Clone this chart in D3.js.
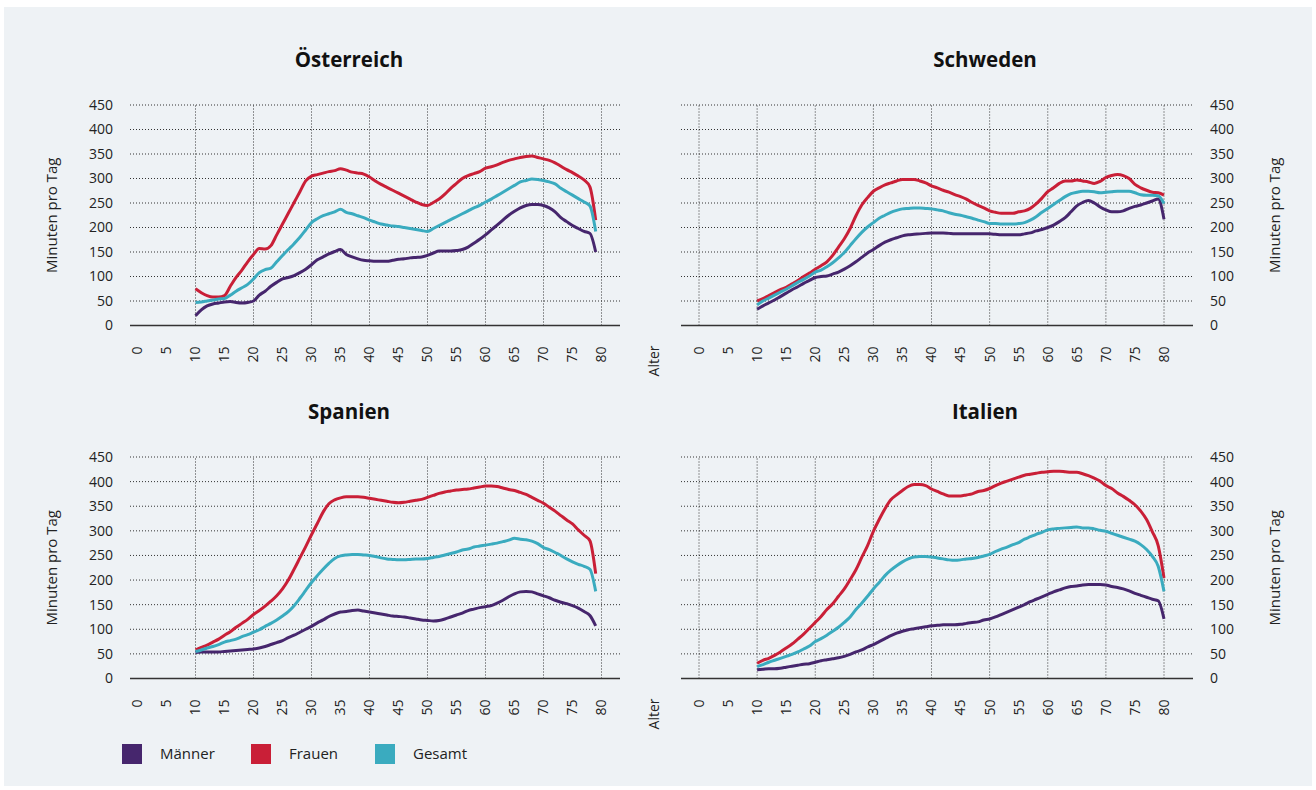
<!DOCTYPE html>
<html>
<head>
<meta charset="utf-8">
<script src="https://cdn.jsdelivr.net/npm/d3@7"></script>
<style>
  body { margin: 0; background: #fff; }
  svg { display: block; font-family: "Open Sans", "Noto Sans", sans-serif; }
</style>
</head>
<body>
<svg id="chart" width="1316" height="790"></svg>
<script>
// ages on the x axis (Österreich/Spanien end at 79, Schweden/Italien at 80)
const agesShort = d3.range(10, 80);
const agesLong = d3.range(10, 81);
const xTicks = [0, 5, 10, 15, 20, 25, 30, 35, 40, 45, 50, 55, 60, 65, 70, 75, 80];
const yTicks = [0, 50, 100, 150, 200, 250, 300, 350, 400, 450];
const seriesNames = ["Männer", "Frauen", "Gesamt"];
const seriesColors = ["#46266d", "#c91f37", "#3aabbf"];

// Österreich
const atMaenner = [20,32,40,44,46,48,49,47,46,47,50,62,70,80,88,95,98,102,108,115,124,134,140,146,151,155,145,140,136,133,132,131,131,131,133,135,136,138,139,140,143,148,152,152,152,153,155,160,168,176,185,195,205,215,225,233,240,245,247,247,245,240,232,220,212,204,198,192,188,150];
const atFrauen = [75,67,61,58,58,61,80,98,113,130,145,157,156,163,185,207,229,251,273,295,305,308,311,314,316,320,317,313,311,309,303,295,288,282,276,270,264,258,252,247,245,251,258,268,280,290,300,306,310,314,321,324,328,333,337,340,343,345,346,343,340,337,332,325,318,312,305,297,283,215];
const atGesamt = [47,48,50,52,54,55,62,70,77,84,95,108,114,117,130,143,155,167,180,195,210,218,224,228,232,237,231,228,224,220,215,211,207,205,203,202,200,198,196,194,192,198,204,210,216,222,228,234,240,245,252,258,265,272,279,286,293,296,299,298,296,293,289,280,273,266,259,252,244,192];

// Schweden
const seMaenner = [33,40,46,52,59,66,73,79,86,92,98,100,101,105,109,115,122,130,139,148,155,163,170,175,179,183,185,186,187,188,189,189,189,188,187,187,187,187,187,187,187,186,185,185,185,185,187,189,193,196,200,205,212,220,232,244,251,255,250,242,236,232,232,234,239,243,246,250,254,258,217];
const seFrauen = [50,55,61,67,73,78,85,92,100,107,115,122,130,143,160,177,198,224,246,261,274,281,287,291,295,298,298,298,295,291,285,281,276,272,267,263,258,251,245,240,234,231,229,229,229,232,234,239,248,260,273,281,290,295,295,297,295,293,290,294,302,306,308,306,300,288,281,276,272,271,266];
const seGesamt = [42,50,56,62,68,74,81,88,94,101,109,113,120,128,138,149,163,177,190,201,210,219,225,231,235,238,239,240,240,239,238,236,234,230,227,225,222,219,215,212,208,208,207,207,207,208,210,215,222,231,239,247,255,263,269,272,274,274,273,271,272,273,274,274,274,271,267,266,266,265,249];

// Spanien
const esMaenner = [53,54,54,54,54,55,56,57,58,59,60,62,65,69,73,77,83,88,94,100,106,113,119,126,131,135,136,138,139,137,135,133,131,129,127,126,125,123,121,119,118,117,118,121,125,129,133,138,141,144,146,148,153,159,166,172,176,177,176,172,168,164,159,155,152,148,143,136,128,107];
const esFrauen = [58,63,68,74,80,88,95,104,112,120,130,138,147,157,168,182,200,222,245,268,292,315,338,355,363,367,369,369,369,368,366,364,362,360,358,357,358,360,362,364,368,372,376,379,381,383,384,385,387,389,391,391,390,387,384,382,378,374,368,362,356,348,340,331,322,314,302,291,280,213];
const esGesamt = [55,58,62,65,69,74,77,80,85,89,94,99,106,112,119,127,136,148,163,179,195,209,222,234,244,249,251,252,252,251,250,248,245,243,242,241,241,242,243,243,244,246,248,251,254,257,261,263,267,269,271,273,275,278,281,285,283,282,279,274,266,262,256,250,243,237,232,228,222,177];

// Italien
const itMaenner = [18,19,20,20,21,23,25,27,29,30,33,36,38,40,42,45,49,54,58,64,69,75,81,87,92,96,99,101,103,105,107,108,109,109,109,110,112,114,115,119,121,125,130,135,140,145,150,156,161,166,171,176,180,184,187,188,190,191,191,191,190,187,185,182,178,173,169,165,161,158,121];
const itFrauen = [31,37,41,47,54,62,70,80,90,102,114,126,140,152,167,182,201,221,246,270,299,323,345,363,373,382,390,394,394,392,385,380,375,371,371,371,373,375,380,382,386,392,397,401,405,409,413,415,417,419,420,421,421,420,419,419,416,412,407,401,392,386,377,370,362,353,340,323,298,270,204];
const itGesamt = [24,28,33,37,41,45,49,54,60,66,75,81,88,96,104,114,125,140,153,167,182,195,209,220,229,237,243,247,248,248,247,245,243,241,240,241,243,244,246,249,252,258,263,267,272,276,283,288,293,297,302,304,305,306,307,308,306,306,304,301,299,295,291,287,283,279,272,262,248,228,177];

const panels = [
  { title: "Österreich", ages: agesShort, data: [atMaenner, atFrauen, atGesamt], side: "left", row: 0 },
  { title: "Schweden", ages: agesLong, data: [seMaenner, seFrauen, seGesamt], side: "right", row: 0 },
  { title: "Spanien", ages: agesShort, data: [esMaenner, esFrauen, esGesamt], side: "left", row: 1 },
  { title: "Italien", ages: agesLong, data: [itMaenner, itFrauen, itGesamt], side: "right", row: 1 }
];

// layout
const cols = {
  left:  { x0: 137.5, x1: 601.5, g0: 130, g1: 620, title: 349, label: 113, axisTitle: 52 },
  right: { x0: 699, x1: 1164, g0: 681, g1: 1193, title: 985, label: 1210, axisTitle: 1275 }
};
const rows = [
  { y0: 325.5, y1: 105, titleY: 67 },
  { y0: 678.5, y1: 457, titleY: 419 }
];

const svg = d3.select("#chart");

svg.append("rect")
  .attr("x", 4).attr("y", 7)
  .attr("width", 1308).attr("height", 779)
  .attr("fill", "#eef2f5");

panels.forEach(p => {
  const c = cols[p.side], r = rows[p.row];
  const x = d3.scaleLinear().domain([0, 80]).range([c.x0, c.x1]);
  const y = d3.scaleLinear().domain([0, 450]).range([r.y0, r.y1]);
  const g = svg.append("g");

  // horizontal grid
  g.selectAll("line.hgrid")
    .data(yTicks.filter(d => d > 0))
    .join("line")
    .attr("x1", c.g0).attr("x2", c.g1)
    .attr("y1", d => y(d)).attr("y2", d => y(d))
    .attr("stroke", "#333")
    .attr("stroke-width", 1)
    .attr("stroke-dasharray", "1,2");

  // vertical grid (right column also has one at 0)
  const vt = p.side === "right" ? [0, 10, 20, 30, 40, 50, 60, 70, 80] : [10, 20, 30, 40, 50, 60, 70, 80];
  g.selectAll("line.vgrid")
    .data(vt)
    .join("line")
    .attr("x1", d => x(d)).attr("x2", d => x(d))
    .attr("y1", y(0)).attr("y2", y(450))
    .attr("stroke", "#333")
    .attr("stroke-width", 1)
    .attr("stroke-dasharray", "1,2");

  // base line
  g.append("line")
    .attr("x1", c.g0).attr("x2", c.g1)
    .attr("y1", y(0)).attr("y2", y(0))
    .attr("stroke", "#333")
    .attr("stroke-width", 1.3);

  // y labels
  g.selectAll("text.ylab")
    .data(yTicks)
    .join("text")
    .attr("x", c.label)
    .attr("y", d => y(d))
    .attr("dy", "0.35em")
    .attr("text-anchor", p.side === "left" ? "end" : "start")
    .attr("font-size", 14)
    .attr("fill", "#222")
    .text(d => d);

  // x labels (rotated)
  g.selectAll("text.xlab")
    .data(xTicks)
    .join("text")
    .attr("transform", d => `translate(${x(d)},${y(0) + 21}) rotate(-90)`)
    .attr("dy", "0.35em")
    .attr("text-anchor", "end")
    .attr("font-size", 14)
    .attr("fill", "#222")
    .text(d => d);

  // axis title
  g.append("text")
    .attr("transform", `translate(${c.axisTitle},${(r.y0 + r.y1) / 2}) rotate(-90)`)
    .attr("dy", "0.35em")
    .attr("text-anchor", "middle")
    .attr("font-size", 15)
    .attr("fill", "#222")
    .text("Minuten pro Tag");

  if (p.side === "left") {
    g.append("text")
      .attr("transform", `translate(654,${y(0) + 20}) rotate(-90)`)
      .attr("dy", "0.35em")
      .attr("text-anchor", "end")
      .attr("font-size", 14)
      .attr("fill", "#222")
      .text("Alter");
  }

  // title
  g.append("text")
    .attr("x", c.title)
    .attr("y", r.titleY)
    .attr("text-anchor", "middle")
    .attr("font-size", 20.5)
    .attr("font-weight", 700)
    .attr("fill", "#111")
    .text(p.title);

  // lines
  const line = d3.line()
    .x((d, i) => x(p.ages[i]))
    .y(d => y(d))
    .curve(d3.curveMonotoneX);

  p.data.forEach((vals, i) => {
    g.append("path")
      .datum(vals)
      .attr("d", line)
      .attr("fill", "none")
      .attr("stroke", seriesColors[i])
      .attr("stroke-width", 3)
      .attr("stroke-linejoin", "round");
  });
});

// legend
const legendX = [122, 251, 375];
const legend = svg.append("g");
seriesNames.forEach((name, i) => {
  legend.append("rect")
    .attr("x", legendX[i]).attr("y", 744)
    .attr("width", 20).attr("height", 20)
    .attr("fill", seriesColors[i]);
  legend.append("text")
    .attr("x", legendX[i] + 38).attr("y", 754)
    .attr("dy", "0.35em")
    .attr("font-size", 15)
    .attr("fill", "#222")
    .text(name);
});
</script>
</body>
</html>
